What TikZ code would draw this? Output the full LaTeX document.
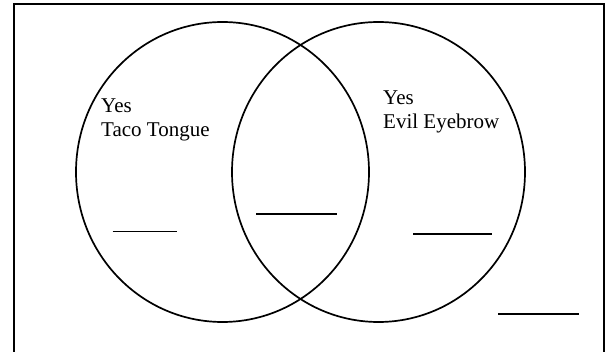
\documentclass[tikz,border=0pt]{standalone}
\usepackage{fontspec}
\setmainfont{Liberation Serif}
\usetikzlibrary{shapes.geometric}
\begin{document}
\begin{tikzpicture}[x=1pt,y=-1pt,
  lbl/.style={anchor=base west, inner sep=0pt, font=\fontsize{21}{24}\selectfont, align=left},
  ring/.style={draw, ellipse, line width=1.7pt, inner sep=0pt, minimum width=293pt, minimum height=300pt},
  blank/.style={line width=1.2pt},
  frame/.style={line width=1.8pt}]
\useasboundingbox (0,0) rectangle (610,352);
\draw[frame] (14,4) rectangle (604,362);
\node (L) [ring] at (222.5,172) {};
\node (R) [ring] at (378.5,172) {};
\node (tl) [lbl] at (101,137) {Yes\\Taco Tongue};
\node (tr) [lbl] at (383,129) {Yes\\Evil Eyebrow};
\coordinate (a1) at (112.7,231.7); \coordinate (a2) at (177,231.7);
\coordinate (b1) at (256,214); \coordinate (b2) at (336.7,214);
\coordinate (c1) at (413,234); \coordinate (c2) at (492,234);
\coordinate (d1) at (498,314); \coordinate (d2) at (579,314);
\draw[blank] (a1) -- (a2);
\draw[blank] (b1) -- (b2);
\draw[blank] (c1) -- (c2);
\draw[blank] (d1) -- (d2);
\end{tikzpicture}
\end{document}
